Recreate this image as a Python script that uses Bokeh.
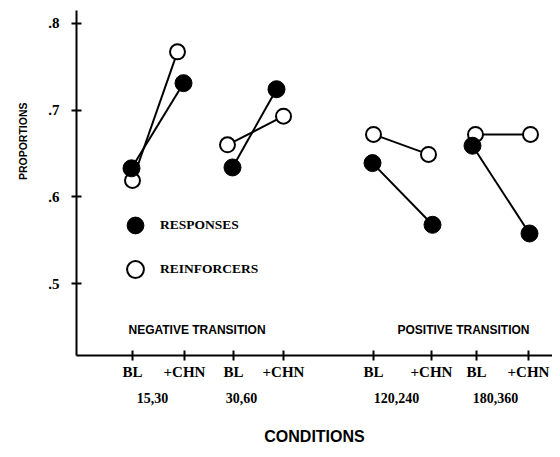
import math
from bokeh.plotting import figure
from bokeh.models import (FixedTicker, LinearAxis, Range1d, Legend, LegendItem,
                          Label, ColumnDataSource, Title)
from bokeh.embed import file_html
from bokeh.resources import INLINE

# ---- data ----
tick_pos = [1.12, 2.16, 3.14, 4.14, 5.94, 7.10, 8.00, 9.04]
tick_labels = ["BL", "+CHN", "BL", "+CHN", "BL", "+CHN", "BL", "+CHN"]
group_pos = [1.52, 3.30, 6.40, 8.38]
group_labels = ["15,30", "30,60", "120,240", "180,360"]
y_ticks = [0.5, 0.6, 0.7, 0.8]
y_tick_labels = [".5", ".6", ".7", ".8"]

resp_x = [1.10, 2.14, 3.12, 4.00, 5.92, 7.12, 7.92, 9.06]
resp_y = [0.633, 0.731, 0.634, 0.724, 0.639, 0.568, 0.659, 0.558]
reinf_x = [1.12, 2.02, 3.02, 4.14, 5.94, 7.04, 7.98, 9.08]
reinf_y = [0.619, 0.767, 0.660, 0.693, 0.672, 0.649, 0.672, 0.672]

SERIF = "Liberation Serif"
SANS = "Liberation Sans"

p = figure(width=552, height=449, output_backend="svg", toolbar_location=None,
           x_range=Range1d(0, 9.52), y_range=Range1d(0.4176, 0.8146),
           min_border_left=76, min_border_right=0, min_border_top=10,
           min_border_bottom=94, x_axis_type=None, y_axis_type=None)
p.outline_line_color = None
p.xgrid.grid_line_color = None
p.ygrid.grid_line_color = None
p.background_fill_color = "white"
p.border_fill_color = "white"

# segments
def seg(xs, ys):
    return ColumnDataSource(dict(x0=xs[0::2], y0=ys[0::2], x1=xs[1::2], y1=ys[1::2]))

p.segment("x0", "y0", "x1", "y1", source=seg(reinf_x, reinf_y), line_color="black", line_width=2)
p.segment("x0", "y0", "x1", "y1", source=seg(resp_x, resp_y), line_color="black", line_width=2)

r_reinf = p.scatter(reinf_x, reinf_y, size=15, marker="circle", fill_color="white",
                    line_color="black", line_width=2)
r_resp = p.scatter(resp_x, resp_y, size=17, marker="circle", fill_color="black",
                   line_color="black", line_width=1)

# axes
xax = LinearAxis(ticker=FixedTicker(ticks=tick_pos),
                 major_label_overrides={t: l for t, l in zip(tick_pos, tick_labels)})
xax.axis_line_width = 2
xax.axis_line_color = "black"
xax.major_tick_line_width = 2
xax.major_tick_line_color = "black"
xax.major_tick_in = 5
xax.major_tick_out = 5
xax.minor_tick_line_color = None
xax.major_label_standoff = 3
xax.major_label_text_font = SERIF
xax.major_label_text_font_style = "bold"
xax.major_label_text_font_size = "15px"
xax.major_label_text_color = "black"
p.add_layout(xax, "below")

gax = LinearAxis(ticker=FixedTicker(ticks=group_pos),
                 major_label_overrides={t: l for t, l in zip(group_pos, group_labels)})
gax.axis_line_color = None
gax.major_tick_line_color = None
gax.minor_tick_line_color = None
gax.major_tick_in = 0
gax.major_tick_out = 0
gax.major_label_standoff = 10
gax.major_label_text_font = SERIF
gax.major_label_text_font_style = "bold"
gax.major_label_text_font_size = "14px"
gax.major_label_text_color = "black"
gax.axis_label = "CONDITIONS"
gax.axis_label_text_font = SANS
gax.axis_label_text_font_style = "bold"
gax.axis_label_text_font_size = "16px"
gax.axis_label_text_color = "black"
gax.axis_label_standoff = 22
p.add_layout(gax, "below")

yax = LinearAxis(ticker=FixedTicker(ticks=y_ticks),
                 major_label_overrides={t: l for t, l in zip(y_ticks, y_tick_labels)})
yax.axis_line_width = 2
yax.axis_line_color = "black"
yax.major_tick_line_width = 2
yax.major_tick_line_color = "black"
yax.major_tick_in = 5
yax.major_tick_out = 5
yax.minor_tick_line_color = None
yax.major_label_standoff = 12
yax.major_label_text_font = SERIF
yax.major_label_text_font_style = "bold"
yax.major_label_text_font_size = "15px"
yax.major_label_text_color = "black"
p.add_layout(yax, "left")

# y axis title
p.add_layout(Title(text="PROPORTIONS", align="right", offset=92, standoff=30,
                   vertical_align="top",
                   text_font=SANS, text_font_style="bold",
                   text_font_size="10.5px", text_color="black"), "left")

# annotations
for x, txt in [(1.04, "NEGATIVE TRANSITION"), (6.42, "POSITIVE TRANSITION")]:
    p.add_layout(Label(x=x, y=0.4475, text=txt, text_baseline="middle",
                       text_font=SANS, text_font_style="bold",
                       text_font_size="12px", text_color="black"))

legend = Legend(items=[LegendItem(label="RESPONSES", renderers=[r_resp]),
                       LegendItem(label="REINFORCERS", renderers=[r_reinf])],
                location=(38, 65), padding=0, margin=0, spacing=2,
                glyph_width=42, glyph_height=42, label_height=42, label_standoff=4,
                background_fill_alpha=0, border_line_alpha=0,
                label_text_font=SERIF, label_text_font_style="bold",
                label_text_font_size="13.5px", label_text_color="black")
p.add_layout(legend, "center")

open("out.html", "w").write(file_html(p, INLINE))
